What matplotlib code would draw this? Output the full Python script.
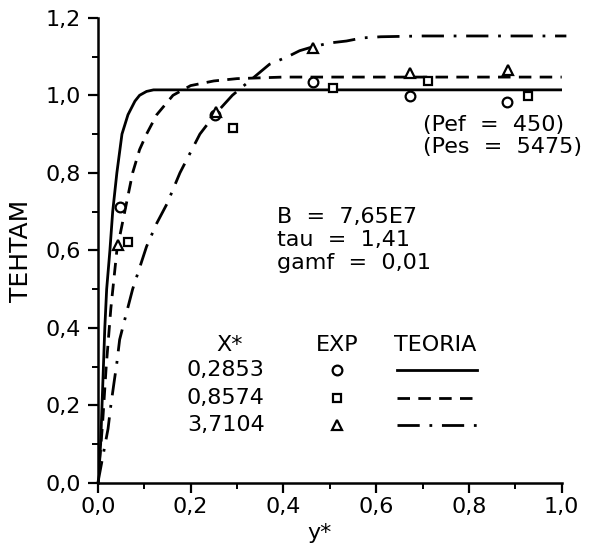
import matplotlib
matplotlib.use("Agg")
import matplotlib.pyplot as plt
from matplotlib.ticker import MultipleLocator, FuncFormatter

# theory curves
solid_x = [0.0, 0.006, 0.009, 0.012, 0.015, 0.019, 0.026, 0.032, 0.041, 0.052,
           0.065, 0.08, 0.09, 0.105, 0.12, 1.0]
solid_y = [0.0, 0.1, 0.2, 0.3, 0.4, 0.5, 0.6, 0.7, 0.8, 0.9,
           0.95, 0.985, 1.0, 1.01, 1.014, 1.014]

dash_x = [0.0, 0.01, 0.018, 0.028, 0.041, 0.058, 0.075, 0.09, 0.105, 0.127,
          0.162, 0.2, 0.25, 0.3, 0.4, 1.0]
dash_y = [0.0, 0.15, 0.3, 0.45, 0.6, 0.7, 0.8, 0.86, 0.9, 0.95,
          1.0, 1.025, 1.037, 1.043, 1.047, 1.047]

dd_x = [0.0, 0.022, 0.028, 0.035, 0.041, 0.047, 0.062, 0.075, 0.09, 0.105,
        0.127, 0.149, 0.177, 0.22, 0.252, 0.29, 0.33, 0.37, 0.41, 0.435,
        0.463, 0.5, 0.536, 0.57, 0.61, 0.7, 1.01]
dd_y = [0.0, 0.14, 0.2, 0.26, 0.31, 0.37, 0.44, 0.5, 0.555, 0.61,
        0.67, 0.72, 0.8, 0.9, 0.95, 1.0, 1.04, 1.08, 1.1, 1.115,
        1.125, 1.135, 1.14, 1.148, 1.151, 1.153, 1.153]

# experimental points
circ_x = [0.047, 0.252, 0.463, 0.672, 0.881]
circ_y = [0.712, 0.95, 1.035, 0.999, 0.983]
sq_x = [0.065, 0.291, 0.506, 0.711, 0.927]
sq_y = [0.622, 0.916, 1.019, 1.037, 0.999]
tri_x = [0.043, 0.255, 0.463, 0.672, 0.884]
tri_y = [0.614, 0.958, 1.123, 1.058, 1.066]

x_star = ["0,2853", "0,8574", "3,7104"]
params = ["B  =  7,65E7", "tau  =  1,41", "gamf  =  0,01"]
peclet = ["(Pef  =  450)", "(Pes  =  5475)"]

solid = "-"
dashed = (0, (4.5, 3))
dashdot = (0, (8, 3.5, 1, 3.5))

plt.rcParams["font.family"] = "DejaVu Sans"
fig = plt.figure(figsize=(6.04, 5.48), dpi=100)
ax = fig.add_axes([0.162, 0.1186, 0.768, 0.849])

lw = 2.0
ax.plot(solid_x, solid_y, color="black", lw=lw, ls=solid)
ax.plot(dash_x, dash_y, color="black", lw=lw, ls=dashed)
ax.plot(dd_x, dd_y, color="black", lw=lw, ls=dashdot, clip_on=False)

mk = dict(color="black", ls="none", mfc="white", mew=1.6)
ax.plot(circ_x, circ_y, marker="o", ms=7, **mk)
ax.plot(sq_x, sq_y, marker="s", ms=5.5, **mk)
ax.plot(tri_x, tri_y, marker="^", ms=6.5, **mk)

ax.set_xlim(0, 1.0)
ax.set_ylim(0, 1.2)
ax.spines["top"].set_visible(False)
ax.spines["right"].set_visible(False)
for s in ("left", "bottom"):
    ax.spines[s].set_linewidth(1.8)

ax.xaxis.set_major_locator(MultipleLocator(0.2))
ax.xaxis.set_minor_locator(MultipleLocator(0.1))
ax.yaxis.set_major_locator(MultipleLocator(0.2))
ax.yaxis.set_minor_locator(MultipleLocator(0.1))
fmt = FuncFormatter(lambda v, p: f"{v:.1f}".replace(".", ","))
ax.xaxis.set_major_formatter(fmt)
ax.yaxis.set_major_formatter(fmt)
ax.tick_params(which="major", direction="out", length=7, width=1.6,
               labelsize=16, pad=3)
ax.tick_params(which="minor", direction="out", length=4, width=1.4)
ax.tick_params(axis="y", which="major", pad=5)

ax.set_xlabel("y*", fontsize=16)
ax.xaxis.set_label_coords(0.478, -0.085)
ax.set_ylabel("TEHTAM", fontsize=18)
ax.yaxis.set_label_coords(-0.14, 0.5)

fs = 16
for i, t in enumerate(peclet):
    ax.text(0.70, 0.924 - 0.057 * i, t, fontsize=fs, ha="left", va="center",
            clip_on=False)
for i, t in enumerate(params):
    ax.text(0.386, 0.686 - 0.059 * i, t, fontsize=fs, ha="left", va="center")

# legend table
rows_y = [0.292, 0.219, 0.15]
ax.text(0.284, 0.356, "X*", fontsize=fs, ha="center", va="center")
ax.text(0.515, 0.356, "EXP", fontsize=fs, ha="center", va="center")
ax.text(0.728, 0.356, "TEORIA", fontsize=fs, ha="center", va="center")
for i, (lab, m, ms, ls) in enumerate(zip(x_star, ["o", "s", "^"], [7, 5.5, 6.5],
                                         [solid, dashed, dashdot])):
    ax.text(0.276, rows_y[i], lab, fontsize=fs, ha="center", va="center")
    ax.plot([0.515], [rows_y[i]], marker=m, ms=ms, **mk)
    ax.plot([0.644, 0.817], [rows_y[i], rows_y[i]], color="black", lw=lw, ls=ls)

fig.savefig("out.png", dpi=100)
